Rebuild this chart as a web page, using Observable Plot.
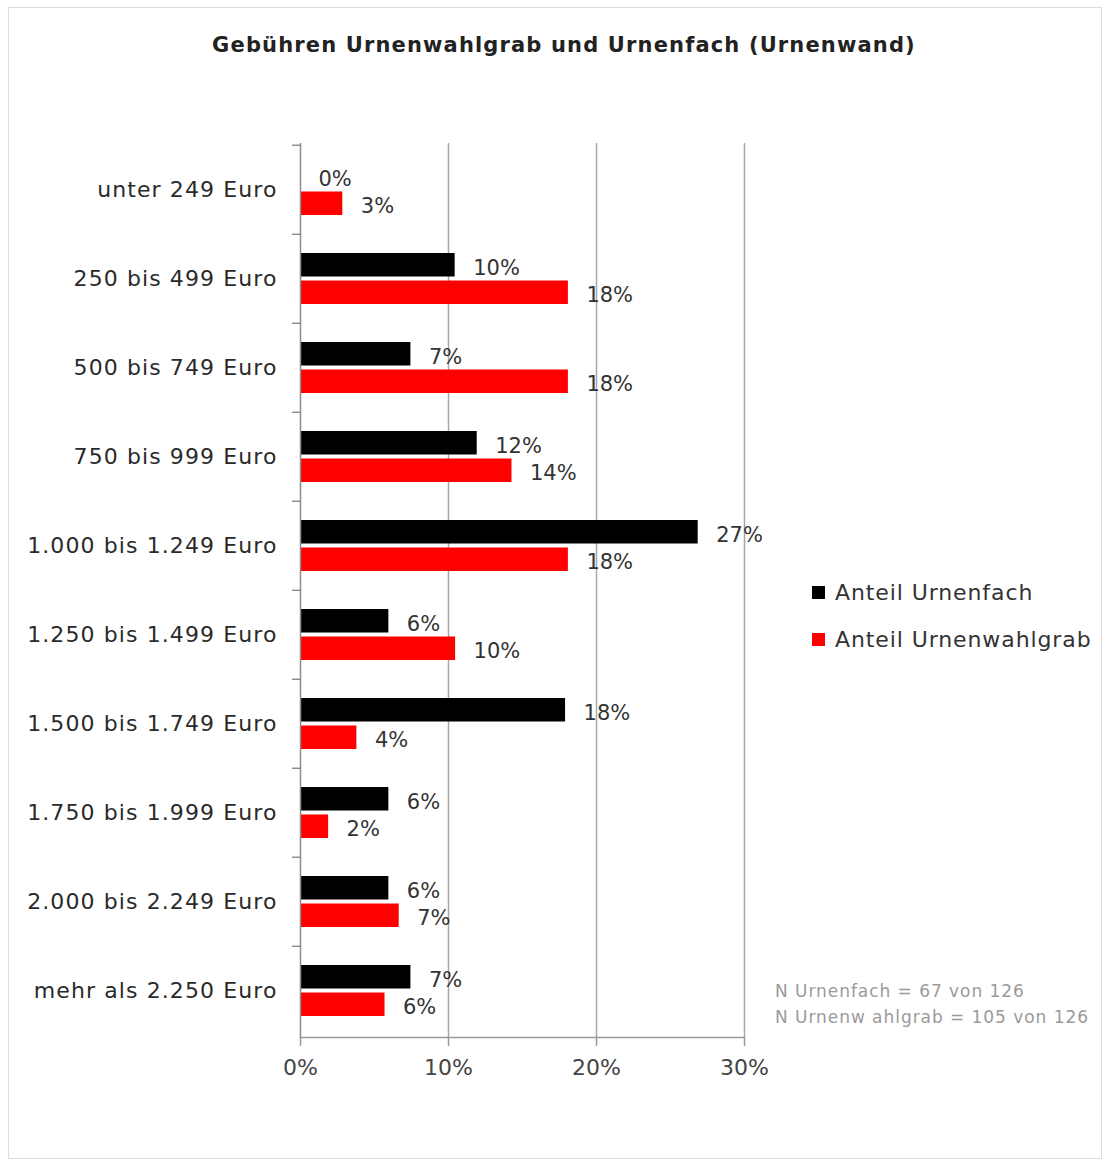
<!DOCTYPE html>
<html>
<head>
<meta charset="utf-8">
<script src="https://cdn.jsdelivr.net/npm/d3@7"></script>
<script src="https://cdn.jsdelivr.net/npm/@observablehq/plot@0.6"></script>
<style>
  body { margin: 0; background: #fff; font-family: "DejaVu Sans", sans-serif; }
  #wrap { position: relative; width: 1110px; height: 1164px; overflow: hidden; }
  #border { position: absolute; left: 8px; top: 7px; width: 1094px; height: 1152px; border: 1px solid #dcdcdc; box-sizing: border-box; }
  #title { position: absolute; left: 0; top: 33px; width: 1128px; text-align: center; font: bold 21px "DejaVu Sans", sans-serif; color: #222; letter-spacing: 1.15px; }
  #chart { position: absolute; left: 0; top: 100px; }
  #chart g[aria-label="y-axis tick label"] text { letter-spacing: 1.1px; }
  .leg { position: absolute; left: 812px; font: 22px "DejaVu Sans", sans-serif; color: #333; display: flex; align-items: center; white-space: nowrap; letter-spacing: 0.9px; }
  .leg span.sw { width: 13px; height: 13px; display: inline-block; margin-right: 10px; }
  #note { position: absolute; left: 775px; top: 978px; font: 17px "DejaVu Sans", sans-serif; color: #9a9a9a; line-height: 26px; white-space: nowrap; letter-spacing: 0.95px; }
</style>
</head>
<body>
<div id="wrap">
  <div id="border"></div>
  <div id="title"></div>
  <div id="chart"></div>
  <div id="legend"></div>
  <div id="note"></div>
</div>
<script>
const title = "Gebühren Urnenwahlgrab und Urnenfach (Urnenwand)";
const categories = [
  "unter 249 Euro",
  "250 bis 499 Euro",
  "500 bis 749 Euro",
  "750 bis 999 Euro",
  "1.000 bis 1.249 Euro",
  "1.250 bis 1.499 Euro",
  "1.500 bis 1.749 Euro",
  "1.750 bis 1.999 Euro",
  "2.000 bis 2.249 Euro",
  "mehr als 2.250 Euro"
];
const series = ["Anteil Urnenfach", "Anteil Urnenwahlgrab"];
// percentages (N Urnenfach = 67, N Urnenwahlgrab = 105)
const urnenfach = [0, 10.45, 7.46, 11.94, 26.87, 5.97, 17.91, 5.97, 5.97, 7.46];
const urnenwahlgrab = [2.86, 18.10, 18.10, 14.29, 18.10, 10.48, 3.81, 1.90, 6.67, 5.71];
const colors = ["#000000", "#ff0000"];
const xTicks = [0, 10, 20, 30];
const notes = ["N Urnenfach = 67 von 126", "N Urnenw ahlgrab = 105 von 126"];

const rows = categories.flatMap((c, i) => [
  {category: c, series: series[0], value: urnenfach[i]},
  {category: c, series: series[1], value: urnenwahlgrab[i]}
]);
const black = rows.filter(d => d.series === series[0]);
const red = rows.filter(d => d.series === series[1]);
const pct = d => Math.round(d.value) + "%";

const W = 1110, H = 1000, MT = 43, MB = 63, ML = 300, MR = 366;
const step = (H - MT - MB) / categories.length;

document.getElementById("title").textContent = title;

const chart = Plot.plot({
  width: W, height: H,
  marginTop: MT, marginBottom: MB, marginLeft: ML, marginRight: MR,
  style: {fontFamily: "DejaVu Sans, sans-serif", fontSize: "22px", color: "#333", background: "transparent"},
  x: {domain: [0, 30]},
  y: {domain: categories, padding: 0, label: null},
  color: {domain: series, range: colors},
  marks: [
    Plot.ruleX(xTicks.slice(1), {stroke: "#a8a8a8", strokeWidth: 1.5}),
    Plot.barX(black, {x: "value", y: "category", fill: "series", insetTop: 19, insetBottom: 46.5}),
    Plot.barX(red, {x: "value", y: "category", fill: "series", insetTop: 46.5, insetBottom: 19}),
    Plot.text(black, {x: "value", y: "category", text: pct, textAnchor: "start", dx: 18, dy: -11, fill: "#333", fontSize: 21}),
    Plot.text(red, {x: "value", y: "category", text: pct, textAnchor: "start", dx: 18, dy: 16, fill: "#333", fontSize: 21}),
    Plot.ruleX([0], {stroke: "#8c8c8c", strokeWidth: 1.5}),
    Plot.frame({anchor: "bottom", stroke: "#9a9a9a", strokeWidth: 1.5}),
    Plot.axisX({ticks: xTicks, tickFormat: d => d + "%", tickSize: 9, tickPadding: 13, stroke: "#9a9a9a", strokeWidth: 1.5, color: "#444", fontSize: 22, label: null}),
    Plot.axisY({tickSize: 8, fill: "none", stroke: "#8c8c8c", strokeWidth: 1.5, dy: -step / 2, label: null}),
    Plot.axisY({tickSize: 0, tickPadding: 23, fill: "#2a2a2a", fontSize: 22, label: null})
  ]
});
document.getElementById("chart").appendChild(chart);

const legend = document.getElementById("legend");
series.forEach((s, i) => {
  const el = document.createElement("div");
  el.className = "leg";
  el.style.top = (580 + i * 47) + "px";
  el.innerHTML = `<span class="sw" style="background:${colors[i]}"></span><span></span>`;
  el.lastChild.textContent = s;
  legend.appendChild(el);
});
const note = document.getElementById("note");
notes.forEach(n => { const d = document.createElement("div"); d.textContent = n; note.appendChild(d); });
</script>
</body>
</html>
